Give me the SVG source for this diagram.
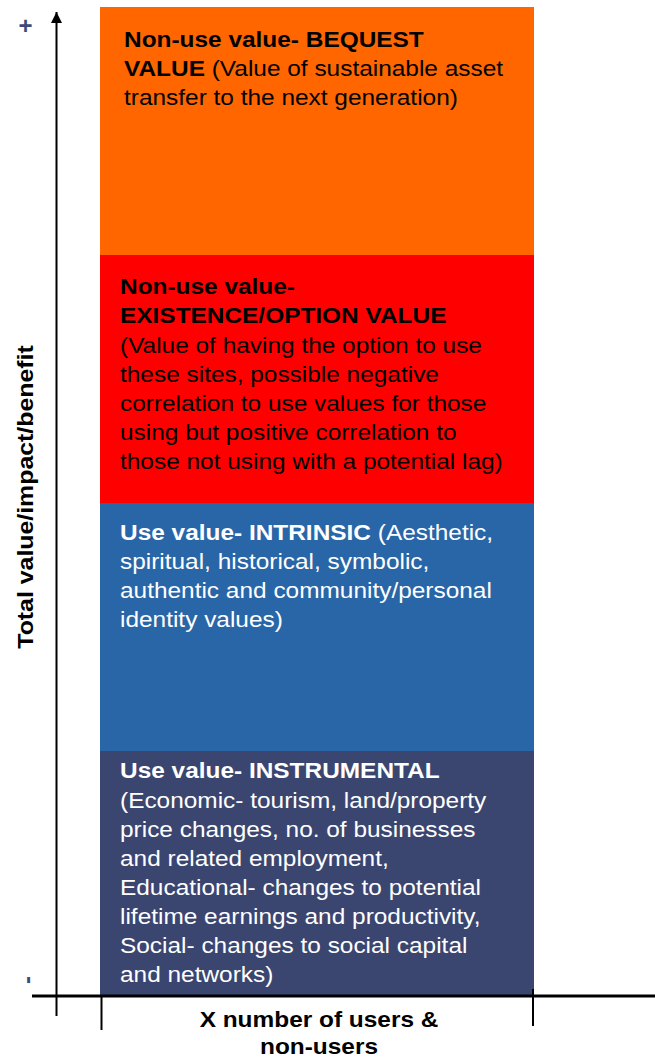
<svg xmlns="http://www.w3.org/2000/svg" width="655" height="1060" viewBox="0 0 655 1060">
  <style>
    .t { font-family: "Liberation Sans", Arial, sans-serif; font-size: 22px; }
    .b { font-weight: bold; }
    .dk { fill: #000000; }
    .wt { fill: #ffffff; }
    .ax { stroke: #000000; fill: none; }
    .lbl { font-family: "Liberation Sans", Arial, sans-serif; font-size: 22px; font-weight: bold; fill: #000000; }
    .sign { font-family: "Liberation Sans", Arial, sans-serif; font-size: 24px; font-weight: bold; fill: #3d4a7a; }
  </style>
  <defs>
    <marker id="arrow" viewBox="0 0 10 10" refX="10" refY="5" markerWidth="12" markerHeight="11" markerUnits="userSpaceOnUse" orient="auto">
      <path d="M0,0 L10,5 L0,10 Z" fill="#000"/>
    </marker>
  </defs>

  <g id="bequest">
    <rect x="100" y="7" width="434" height="248" fill="#ff6600"/>
    <g transform="translate(124,0) scale(1.11,1)">
      <text class="t dk" x="0" y="47"><tspan class="b">Non-use value- BEQUEST</tspan></text>
      <text class="t dk" x="0" y="76"><tspan class="b">VALUE</tspan> (Value of sustainable asset</text>
      <text class="t dk" x="0" y="105">transfer to the next generation)</text>
    </g>
  </g>

  <g id="existence">
    <rect x="100" y="255" width="434" height="248" fill="#ff0000"/>
    <g transform="translate(120,0) scale(1.11,1)">
      <text class="t dk b" x="0" y="294">Non-use value-</text>
      <text class="t dk b" x="0" y="323">EXISTENCE/OPTION VALUE</text>
      <text class="t dk" x="0" y="353">(Value of having the option to use</text>
      <text class="t dk" x="0" y="382">these sites, possible negative</text>
      <text class="t dk" x="0" y="411">correlation to use values for those</text>
      <text class="t dk" x="0" y="440">using but positive correlation to</text>
      <text class="t dk" x="0" y="469">those not using with a potential lag)</text>
    </g>
  </g>

  <g id="intrinsic">
    <rect x="100" y="503" width="434" height="248" fill="#2966a7"/>
    <g transform="translate(120,0) scale(1.11,1)">
      <text class="t wt" x="0" y="540"><tspan class="b">Use value- INTRINSIC</tspan> (Aesthetic,</text>
      <text class="t wt" x="0" y="569">spiritual, historical, symbolic,</text>
      <text class="t wt" x="0" y="598">authentic and community/personal</text>
      <text class="t wt" x="0" y="627">identity values)</text>
    </g>
  </g>

  <g id="instrumental">
    <rect x="100" y="751" width="434" height="244" fill="#3b4670"/>
    <g transform="translate(120,0) scale(1.11,1)">
      <text class="t wt b" x="0" y="778">Use value- INSTRUMENTAL</text>
      <text class="t wt" x="0" y="808">(Economic- tourism, land/property</text>
      <text class="t wt" x="0" y="837">price changes, no. of businesses</text>
      <text class="t wt" x="0" y="866">and related employment,</text>
      <text class="t wt" x="0" y="895">Educational- changes to potential</text>
      <text class="t wt" x="0" y="924">lifetime earnings and productivity,</text>
      <text class="t wt" x="0" y="953">Social- changes to social capital</text>
      <text class="t wt" x="0" y="982">and networks)</text>
    </g>
  </g>

  <g id="connectors">
    <line class="ax" x1="56.5" y1="1016" x2="56.5" y2="12" stroke-width="2" marker-end="url(#arrow)"/>
    <line class="ax" x1="32" y1="996" x2="655" y2="996" stroke-width="3"/>
    <line class="ax" x1="101.5" y1="996" x2="101.5" y2="1030" stroke-width="2"/>
    <line class="ax" x1="533" y1="989" x2="533" y2="1026" stroke-width="2"/>
  </g>

  <g id="axis-labels">
    <text class="sign" x="25.5" y="34" text-anchor="middle">+</text>
    <text class="sign" transform="translate(35,980) rotate(-90)" text-anchor="middle">-</text>
    <g transform="translate(33,497) rotate(-90) scale(1.13,1)">
      <text class="lbl" x="0" y="0" text-anchor="middle">Total value/impact/benefit</text>
    </g>
    <g transform="translate(319,0) scale(1.11,1)">
      <text class="lbl" x="0" y="1027" text-anchor="middle">X number of users &amp;</text>
      <text class="lbl" x="0" y="1054" text-anchor="middle">non-users</text>
    </g>
  </g>
</svg>
